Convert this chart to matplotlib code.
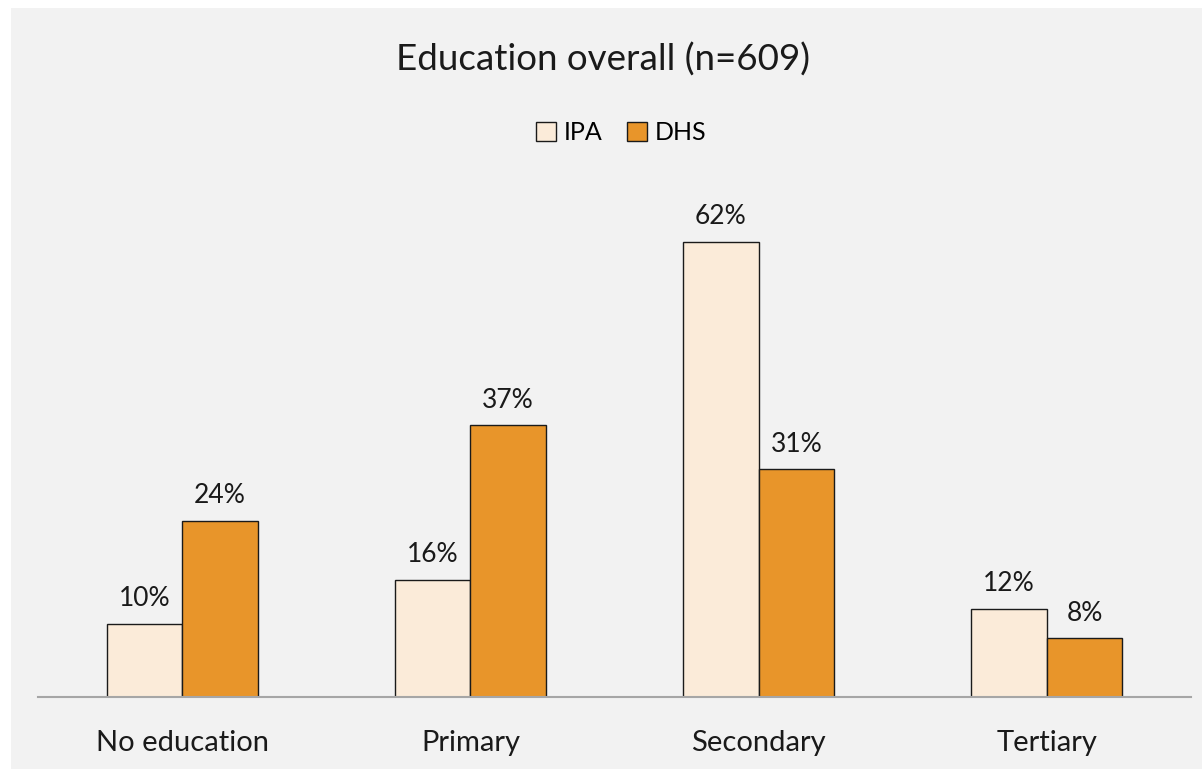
import numpy as np
import matplotlib.pyplot as plt
from matplotlib.patches import Rectangle

# Data
categories = ["No education", "Primary", "Secondary", "Tertiary"]
ipa = [10, 16, 62, 12]
dhs = [24, 37, 31, 8]
series_names = ["IPA", "DHS"]

plt.rcParams['font.family'] = ['Lato', 'DejaVu Sans']

W, H = 1202, 769
fig = plt.figure(figsize=(W / 100, H / 100), dpi=100)
fig.patch.set_facecolor("white")
# light gray chart area (white strip at top and left as in the reference)
fig.patches.append(Rectangle((11 / W, 0), 1, (H - 8) / H, transform=fig.transFigure,
                             facecolor="#F2F2F2", edgecolor="none", zorder=-1))

ax = fig.add_axes([38 / W, (H - 697) / H, (1191 - 38) / W, (697 - 183) / H])
ax.set_facecolor("none")
ax.set_zorder(2)

x = np.arange(len(categories))
width = 0.262
b1 = ax.bar(x - width / 2, ipa, width, color="#FBEBD9", edgecolor="#1a1a1a", linewidth=1.0, label=series_names[0])
b2 = ax.bar(x + width / 2, dhs, width, color="#E8952A", edgecolor="#1a1a1a", linewidth=1.0, label=series_names[1])

for bars in (b1, b2):
    for rect in bars:
        h = rect.get_height()
        ax.annotate(f"{h:.0f}%", (rect.get_x() + rect.get_width() / 2, h),
                    xytext=(0, 9), textcoords="offset points",
                    ha="center", va="bottom", fontsize=19, color="#1a1a1a")

ax.set_xlim(-0.5, len(categories) - 0.5)
ax.set_ylim(0, 70)
ax.set_xticks(x)
ax.set_xticklabels(categories, fontsize=21, color="#1a1a1a")
ax.tick_params(axis="x", length=0, pad=24)
ax.set_yticks([])
for s in ("top", "right", "left"):
    ax.spines[s].set_visible(False)
ax.spines["bottom"].set_color("#A6A6A6")
ax.spines["bottom"].set_linewidth(1.5)

fig.text(603 / W, 1 - 60 / H, "Education overall (n=609)", ha="center", va="center",
         fontsize=26.5, color="#1a1a1a")
fig.legend(handles=[b1, b2], labels=series_names, loc="center", bbox_to_anchor=(621 / W, 1 - 133 / H),
           ncol=2, frameon=False, fontsize=18, handlelength=0.8, handleheight=0.8,
           handletextpad=0.3, columnspacing=1.0)

fig.savefig("out.png", dpi=100)
